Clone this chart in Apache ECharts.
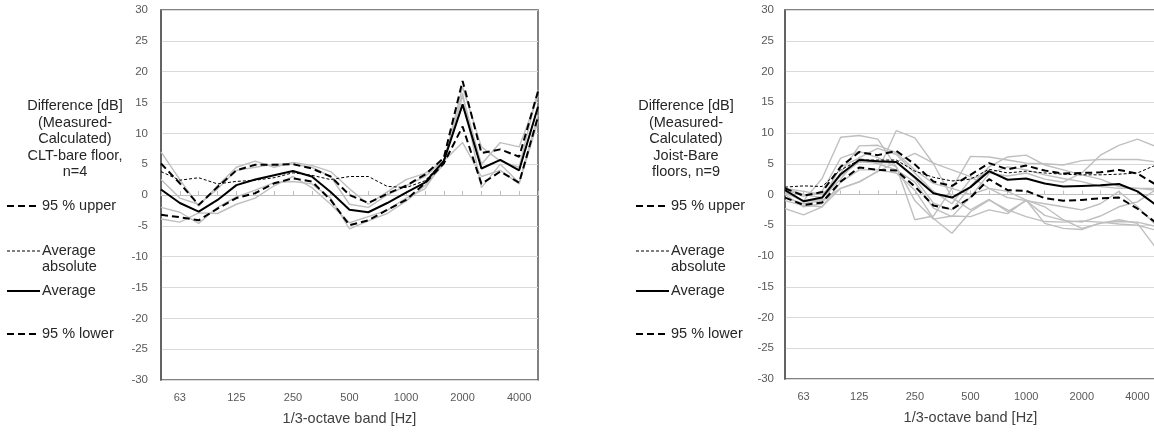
<!DOCTYPE html>
<html>
<head>
<meta charset="utf-8">
<script src="https://cdn.jsdelivr.net/npm/echarts@6/dist/echarts.min.js"></script>
<style>
  html, body { margin: 0; padding: 0; background: #fff; }
  #chart { width: 1154px; height: 432px; }
</style>
</head>
<body>
<div id="chart"></div>
<script>
// 1/3-octave bands, 50 Hz .. 5000 Hz
const bands = ['50', '63', '80', '100', '125', '160', '200', '250', '315', '400', '500',
  '630', '800', '1000', '1250', '1600', '2000', '2500', '3150', '4000', '5000'];

// left panel: CLT-bare floor, n=4
const cltUpper  = [5.1, 1.9, -1.6, 1.3, 4.0, 4.9, 4.9, 5.0, 4.3, 3.0, 0.0, -1.3, 0.2, 1.5, 3.3, 6.0, 18.5, 6.8, 7.4, 6.2, 16.8];
const cltAbs    = [3.8, 2.4, 2.8, 1.8, 2.2, 2.4, 2.8, 3.6, 3.2, 2.5, 3.0, 3.0, 1.4, 1.2, 2.3, 5.5, 14.7, 4.3, 5.7, 4.0, 14.3];
const cltAvg    = [0.9, -1.3, -2.7, -0.8, 1.6, 2.5, 3.2, 3.9, 3.0, 0.5, -2.4, -2.8, -1.3, 0.4, 2.0, 5.5, 14.7, 4.3, 5.7, 4.0, 14.3];
const cltLower  = [-3.2, -3.6, -4.1, -2.2, -0.5, 0.3, 1.9, 2.7, 2.2, -0.8, -4.9, -4.1, -2.4, -0.8, 1.9, 5.1, 11.1, 1.8, 3.8, 2.0, 12.7];
const cltFloors = [
  [7.0, 2.5, -1.8, 1.5, 4.5, 5.5, 4.5, 5.3, 4.8, 3.8, 1.0, -1.5, 0.5, 2.5, 3.5, 5.5, 17.5, 7.8, 5.5, 4.5, 17.0],
  [2.5, -0.5, -1.5, 1.0, 4.0, 4.5, 5.0, 5.0, 4.5, 3.0, -1.5, -2.0, 0.0, 1.5, 3.0, 5.5, 16.0, 5.0, 8.5, 7.8, 16.0],
  [-2.0, -2.8, -4.6, -2.0, -0.3, 0.8, 2.0, 2.2, 1.8, -0.5, -5.5, -4.2, -3.0, -1.0, 1.5, 5.0, 16.5, 1.2, 5.0, 2.0, 13.0],
  [-3.9, -4.4, -2.9, -3.0, -1.5, -0.5, 1.5, 3.0, 1.2, -1.5, -4.5, -3.5, -2.5, -0.5, 1.0, 5.5, 8.5, 3.0, 4.0, 1.8, 12.0]
];

// right panel: Joist-Bare floors, n=9
const joistUpper  = [1.0, -0.2, 0.4, 4.5, 6.9, 6.4, 7.1, 4.9, 2.1, 1.4, 3.2, 5.1, 4.1, 4.7, 3.9, 3.4, 3.5, 3.6, 4.0, 3.4, 1.6];
const joistAbs    = [1.2, 1.4, 1.3, 4.0, 5.6, 5.6, 5.6, 3.8, 2.8, 2.2, 2.5, 4.1, 3.5, 3.8, 3.5, 3.3, 3.2, 3.2, 3.3, 3.5, 4.8];
const joistAvg    = [0.7, -1.1, -0.5, 3.3, 5.6, 5.4, 5.3, 2.8, 0.2, -0.5, 1.2, 3.8, 2.4, 2.6, 1.8, 1.3, 1.4, 1.5, 1.7, 0.5, -1.7];
const joistLower  = [-0.5, -1.7, -1.3, 2.1, 4.4, 4.0, 3.9, 1.3, -1.8, -2.4, -0.5, 2.5, 0.7, 0.6, -0.6, -1.0, -0.9, -0.6, -0.5, -2.3, -4.6];
const joistFloors = [
  [0.2, -1.0, 2.6, 9.3, 9.6, 9.0, 4.5, -4.1, -3.5, 1.0, 0.0, 1.0, -0.5, -1.0, -1.5, -2.0, -2.5, -1.5, 0.5, -2.0, -5.0],
  [-0.5, -1.5, -1.0, 1.0, 2.0, 3.8, 10.4, 9.2, 5.0, -0.5, -2.5, -0.8, -2.8, -1.0, -3.4, -4.2, -4.5, -3.5, -2.0, -1.2, 0.8],
  [1.0, 0.0, -0.5, 2.5, 6.0, 7.5, 6.5, 3.5, 0.5, -1.5, 2.5, 3.5, 3.0, 3.5, 2.5, 2.0, 3.5, 6.4, 8.0, 9.0, 7.8],
  [0.0, -2.0, -1.5, 3.5, 7.9, 8.0, 6.8, 4.0, 1.8, 1.0, 6.2, 6.1, 5.6, 5.1, 5.0, 4.8, 5.5, 5.7, 5.7, 5.7, 5.3],
  [1.0, 0.5, 0.0, 3.0, 5.3, 5.1, 5.3, 2.6, -1.4, -2.5, 1.3, 4.5, 6.1, 6.4, 4.8, 4.0, 3.2, 2.5, 1.3, 1.0, 1.0],
  [-1.0, -1.8, -2.0, 2.0, 4.0, 4.0, 3.5, 0.7, -3.9, -6.3, -2.8, -0.9, -2.5, -3.6, -4.4, -4.5, -4.3, -4.5, -4.8, -5.0, -5.8],
  [-2.3, -3.3, -2.0, 1.0, 2.1, 3.7, 5.3, 6.7, 5.1, 4.0, 2.9, 1.0, 0.5, -0.9, -2.0, -4.1, -5.5, -4.7, -4.1, -4.7, -8.7],
  [0.5, -1.2, -0.8, 4.5, 5.9, 5.0, 4.0, 2.0, -2.2, -3.6, -0.4, 3.4, 4.5, 4.0, 3.2, 2.6, 2.1, 1.3, 1.0, 1.0, 0.7],
  [0.8, -0.3, 0.5, 5.9, 7.0, 6.0, 4.5, -1.0, -4.0, -3.5, -3.6, -2.5, -3.1, -0.9, -4.7, -5.5, -5.7, -4.6, -4.4, -4.5, -5.2]
];

const yTicks = { min: -30, max: 30, interval: 5 };
const panelTitles = [
  ['Difference [dB]', '(Measured-', 'Calculated)', 'CLT-bare floor,', 'n=4'],
  ['Difference [dB]', '(Measured-', 'Calculated)', 'Joist-Bare', 'floors, n=9']
];

const FONT = '"Liberation Sans", Arial, sans-serif';
const chart = echarts.init(document.getElementById('chart'), null, { renderer: 'canvas' });

function labelAxis(gridIndex) {
  return {
    gridIndex, type: 'category', data: bands, boundaryGap: false, position: 'bottom',
    axisLine: { show: false, onZero: false },
    axisTick: { show: false },
    axisLabel: {
      interval: (i) => i % 3 === 1, margin: 12,
      color: '#595959', fontSize: 11, fontFamily: FONT
    },
    splitLine: { show: false },
    name: '1/3-octave band [Hz]', nameLocation: 'middle', nameGap: 31,
    nameTextStyle: { color: '#404040', fontSize: 14.5, fontFamily: FONT }
  };
}
function zeroAxis(gridIndex) {
  return {
    gridIndex, type: 'category', data: bands, boundaryGap: false, position: 'bottom',
    axisLine: { show: true, onZero: true, lineStyle: { color: '#bfbfbf', width: 1 } },
    axisTick: { show: true, inside: true, length: 4, interval: 0, lineStyle: { color: '#bfbfbf' } },
    axisLabel: { show: false },
    splitLine: { show: false }
  };
}
function valueAxis(gridIndex, margin) {
  return {
    gridIndex, type: 'value', min: yTicks.min, max: yTicks.max, interval: yTicks.interval,
    axisLine: { show: true, lineStyle: { color: '#595959', width: 1.5 } },
    axisTick: { show: false },
    axisLabel: { margin, color: '#595959', fontSize: 11.5, fontFamily: FONT },
    splitLine: { lineStyle: { color: '#d9d9d9', width: 1 } }
  };
}

function panelSeries(xIdx, yIdx, floors, upper, abs, avg, lower) {
  const base = { type: 'line', xAxisIndex: xIdx, yAxisIndex: yIdx, symbol: 'none', silent: true, animation: false };
  const out = floors.map((d) => Object.assign({}, base, {
    data: d, z: 2, lineStyle: { color: '#bfbfbf', width: 1.4 }
  }));
  out.push(Object.assign({}, base, { name: '95 % upper', data: upper, z: 4, lineStyle: { color: '#000', width: 2, type: [7, 4] } }));
  out.push(Object.assign({}, base, { name: 'Average absolute', data: abs, z: 3, lineStyle: { color: '#000', width: 1, type: [3, 2] } }));
  out.push(Object.assign({}, base, { name: 'Average', data: avg, z: 5, lineStyle: { color: '#000', width: 2 } }));
  out.push(Object.assign({}, base, { name: '95 % lower', data: lower, z: 4, lineStyle: { color: '#000', width: 2, type: [7, 4] } }));
  return out;
}

// y-axis title and legend drawn on the left of each panel
function sideText(cx, lineX, textX, lines) {
  const els = [];
  const ts = { fontSize: 14.5, fontFamily: FONT, fill: '#262626' };
  lines.forEach((t, k) => {
    els.push({ type: 'text', x: cx, y: 106 + k * 16.5,
      style: Object.assign({ text: t, align: 'center', verticalAlign: 'middle' }, ts) });
  });
  const legend = [
    { y: 206, text: '95 % upper', dash: [7, 4], w: 2 },
    { y: 251, text: 'Average\nabsolute', dash: [3, 2], w: 1 },
    { y: 291, text: 'Average', dash: null, w: 2 },
    { y: 334, text: '95 % lower', dash: [7, 4], w: 2 }
  ];
  legend.forEach((it) => {
    els.push({ type: 'line', shape: { x1: lineX, y1: it.y, x2: textX - 2, y2: it.y },
      style: { stroke: '#000', lineWidth: it.w, lineDash: it.dash } });
    els.push({ type: 'text', x: textX, y: it.y - 8,
      style: Object.assign({ text: it.text, align: 'left', verticalAlign: 'top', lineHeight: 16 }, ts) });
  });
  return els;
}

chart.setOption({
  animation: false,
  backgroundColor: '#fff',
  grid: [
    { left: 161, top: 10, width: 377, height: 370, outerBoundsMode: 'none', containLabel: false,
      show: true, borderColor: '#595959', borderWidth: 1.5 },
    { left: 785, top: 10, width: 371, height: 369, outerBoundsMode: 'none', containLabel: false,
      show: true, borderColor: '#595959', borderWidth: 1.5 }
  ],
  xAxis: [labelAxis(0), zeroAxis(0), labelAxis(1), zeroAxis(1)],
  yAxis: [valueAxis(0, 13), valueAxis(1, 11)],
  graphic: sideText(75, 7, 42, panelTitles[0]).concat(sideText(686, 636, 671, panelTitles[1])),
  series: panelSeries(0, 0, cltFloors, cltUpper, cltAbs, cltAvg, cltLower)
    .concat(panelSeries(2, 1, joistFloors, joistUpper, joistAbs, joistAvg, joistLower))
});
</script>
</body>
</html>
